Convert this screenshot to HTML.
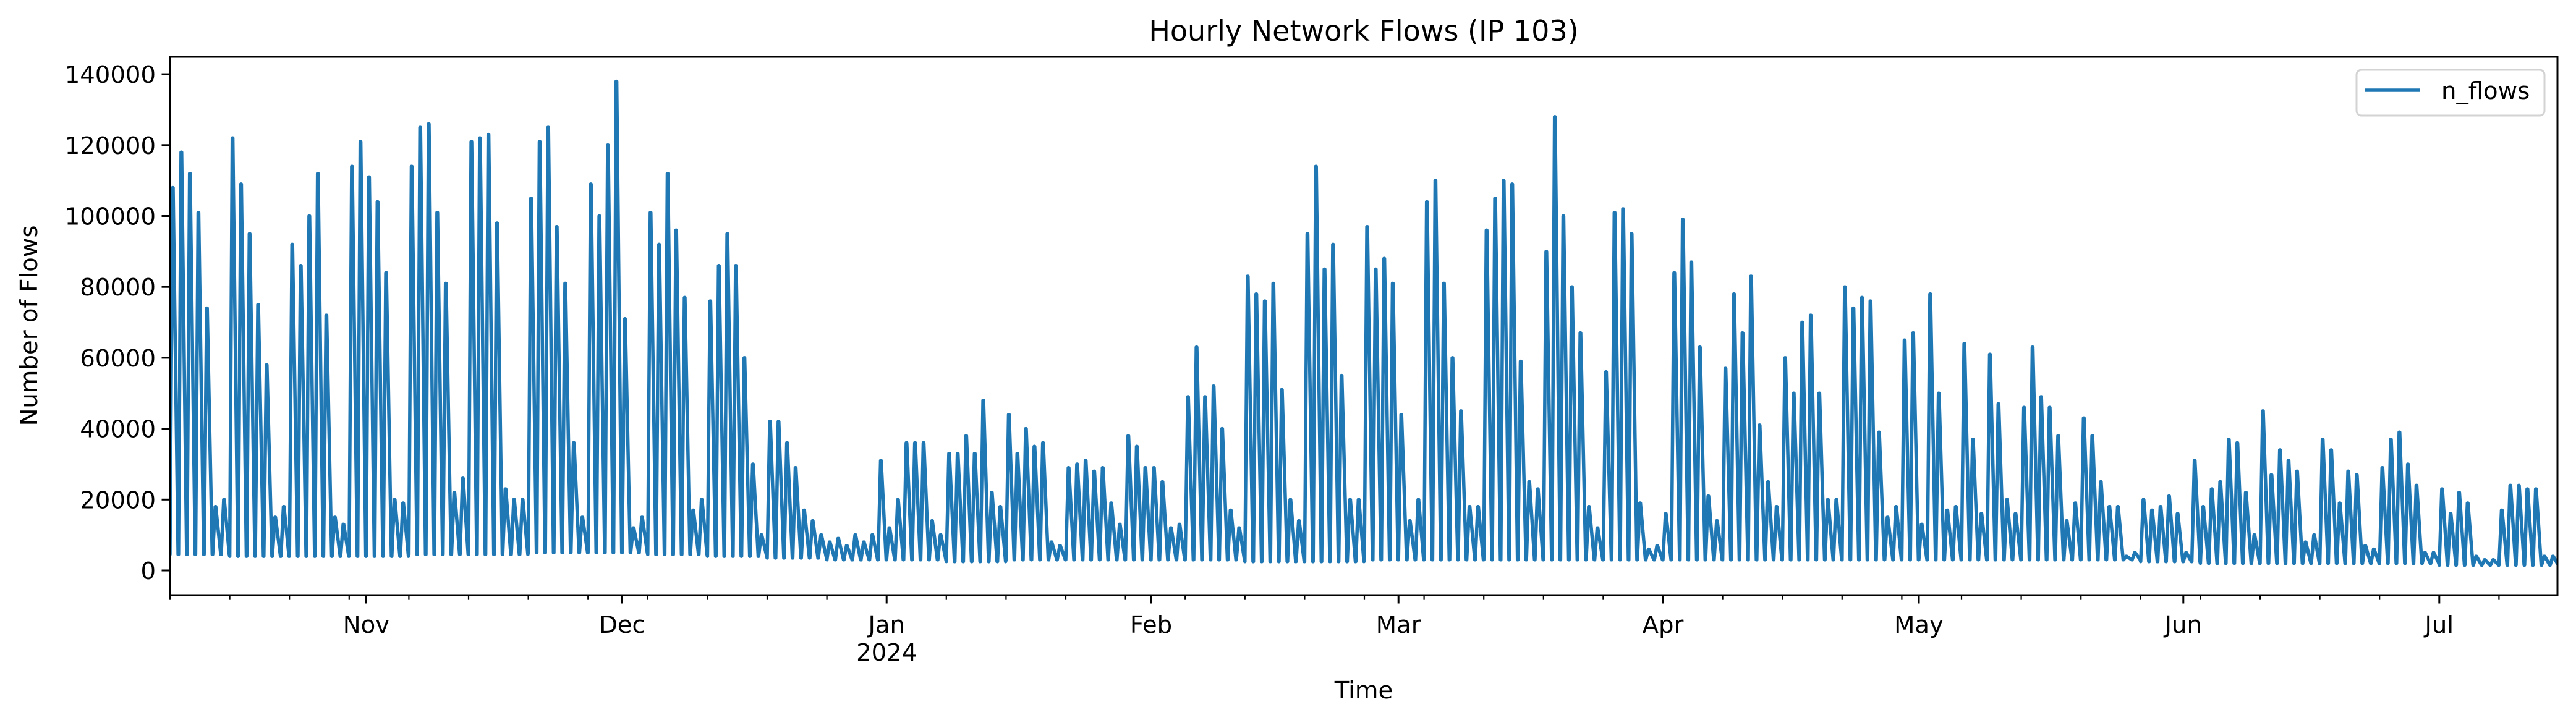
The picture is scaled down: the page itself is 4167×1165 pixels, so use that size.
<!DOCTYPE html>
<html>
<head>
<meta charset="utf-8">
<style>
html,body{margin:0;padding:0;background:#fff;}
svg{display:block;}
text{font-family:"DejaVu Sans","Liberation Sans",sans-serif;fill:#000;}
</style>
</head>
<body>
<svg id="chart" width="4167" height="1165" viewBox="0 0 4167 1165" xmlns="http://www.w3.org/2000/svg">
  <rect x="0" y="0" width="4167" height="1165" fill="#fff"/>
  <text x="2206" y="66" font-size="46" text-anchor="middle">Hourly Network Flows (IP 103)</text>
  <defs><clipPath id="plotclip"><rect x="275" y="92" width="3862" height="871"/></clipPath></defs>
  <g id="plot" clip-path="url(#plotclip)"></g>
  <g id="axes"></g>
  <text x="2206" y="1130" font-size="38.6" text-anchor="middle">Time</text>
  <text transform="translate(60,527) rotate(-90)" font-size="38.6" text-anchor="middle">Number of Flows</text>
  <g>
    <rect x="3812" y="113" width="304" height="74" rx="8" ry="8" fill="#fff" fill-opacity="0.8" stroke="#d3d3d3" stroke-width="3"/>
    <line x1="3825" y1="146" x2="3915" y2="146" stroke="#1f77b4" stroke-width="5.5"/>
    <text x="3949" y="160" font-size="38.6">n_flows</text>
  </g>
</svg>
<script>
// Daily peak values (thousands of flows), day 0 = 2023-10-09
const dailyPeaks = [
108,118,112,101,74,18,20,
122,109,95,75,58,15,18,
92,86,100,112,72,15,13,
114,121,111,104,84,20,19,
114,125,126,101,81,22,26,
121,122,123,98,23,20,20,
105,121,125,97,81,36,15,
109,100,120,138,71,12,15,
101,92,112,96,77,17,20,
76,86,95,86,60,30,10,
42,42,36,29,17,14,10,
8,9,7,10,8,10,31,
12,20,36,36,36,14,10,
33,33,38,33,48,22,18,
44,33,40,35,36,8,7,
29,30,31,28,29,19,13,
38,35,29,29,25,12,13,
49,63,49,52,40,17,12,
83,78,76,81,51,20,14,
95,114,85,92,55,20,20,
97,85,88,81,44,14,20,
104,110,81,60,45,18,18,
96,105,110,109,59,25,23,
90,128,100,80,67,18,12,
56,101,102,95,19,6,7,
16,84,99,87,63,21,14,
57,78,67,83,41,25,18,
60,50,70,72,50,20,20,
80,74,77,76,39,15,18,
65,67,13,78,50,17,18,
64,37,16,61,47,20,16,
46,63,49,46,38,14,19,
43,38,25,18,18,4,5,
20,17,18,21,16,5,31,
18,23,25,37,36,22,10,
45,27,34,31,28,8,10,
37,34,19,28,27,7,6,
29,37,39,30,24,5,5,
23,16,22,19,4,3,3,
17,24,24,23,23,4,4
];
// Weekly night-time trough values (thousands)
const weeklyTroughs = [4.5,4,4,4,4.5,4.5,5,5,4.5,4,3.5,3,3,2.5,3,3,3,3,2.5,2.5,3,3,3,3,3,3,3,3,3,3,3,3,3,2.5,2,2,2,2,1.5,1.5];
const yTickValues = [0,20000,40000,60000,80000,100000,120000,140000];
const yTickLabels = ["0","20000","40000","60000","80000","100000","120000","140000"];
const monthTickDays = [23,53,84,115,144,175,205,236,266];
const monthTickLabels = ["Nov","Dec","Jan","Feb","Mar","Apr","May","Jun","Jul"];
const unit = 1000;

const X0 = 275, X1 = 4137, Y0 = 92, Y1 = 963;
const PX_PER_DAY = 13.8;
const ZERO_Y = 923, PX_PER_UNIT = 0.005735;
function xScale(day){ return X0 + day*PX_PER_DAY; }
function yScale(v){ return ZERO_Y - v*PX_PER_UNIT; }
const NS = "http://www.w3.org/2000/svg";
const plot = document.getElementById('plot');
const axes = document.getElementById('axes');

// series line
let pts = [];
for (let d = 0; d < dailyPeaks.length; d++) {
  const tr = weeklyTroughs[Math.floor(d/7)] * unit;
  pts.push([xScale(d+0.0), yScale(tr)]);
  pts.push([xScale(d+0.3), yScale(dailyPeaks[d]*unit)]);
  pts.push([xScale(d+0.36), yScale(dailyPeaks[d]*unit)]);
  pts.push([xScale(d+0.95), yScale(tr)]);
}
const path = document.createElementNS(NS,'path');
path.setAttribute('d', 'M' + pts.map(p => p[0].toFixed(1)+','+p[1].toFixed(1)).join('L'));
path.setAttribute('fill','none');
path.setAttribute('stroke','#1f77b4');
path.setAttribute('stroke-width','5.5');
path.setAttribute('stroke-linejoin','round');
path.setAttribute('stroke-linecap','round');


plot.appendChild(path);

// axes frame
const frame = document.createElementNS(NS,'rect');
frame.setAttribute('x',X0); frame.setAttribute('y',Y0);
frame.setAttribute('width',X1-X0); frame.setAttribute('height',Y1-Y0);
frame.setAttribute('fill','none'); frame.setAttribute('stroke','#000'); frame.setAttribute('stroke-width','3');


axes.appendChild(frame);

// y ticks
yTickValues.forEach((v,i) => {
  const y = yScale(v);
  const t = document.createElementNS(NS,'line');
  t.setAttribute('x1',X0); t.setAttribute('x2',X0-13.5);
  t.setAttribute('y1',y); t.setAttribute('y2',y);
  t.setAttribute('stroke','#000'); t.setAttribute('stroke-width','3');
  
  
  axes.appendChild(t);
  const lb = document.createElementNS(NS,'text');
  lb.setAttribute('x',X0-23); lb.setAttribute('y',y+14);
  lb.setAttribute('font-size','38.6'); lb.setAttribute('text-anchor','end');
  lb.textContent = yTickLabels[i];
  
  
  axes.appendChild(lb);
});

// minor weekly ticks
for (let d = 0; d*PX_PER_DAY <= X1-X0+0.5; d += 7) {
  const x = xScale(d);
  const t = document.createElementNS(NS,'line');
  t.setAttribute('x1',x); t.setAttribute('x2',x);
  t.setAttribute('y1',Y1); t.setAttribute('y2',Y1+7.7);
  t.setAttribute('stroke','#000'); t.setAttribute('stroke-width','2.2');
  
  
  axes.appendChild(t);
}
// month ticks
monthTickDays.forEach((d,i) => {
  const x = xScale(d);
  const t = document.createElementNS(NS,'line');
  t.setAttribute('x1',x); t.setAttribute('x2',x);
  t.setAttribute('y1',Y1); t.setAttribute('y2',Y1+13.5);
  t.setAttribute('stroke','#000'); t.setAttribute('stroke-width','3');
  
  
  axes.appendChild(t);
  const lb = document.createElementNS(NS,'text');
  lb.setAttribute('x',x); lb.setAttribute('y',1024);
  lb.setAttribute('font-size','38.6'); lb.setAttribute('text-anchor','middle');
  lb.textContent = monthTickLabels[i];
  
  
  axes.appendChild(lb);
  if (monthTickLabels[i] === 'Jan') {
    const yl = document.createElementNS(NS,'text');
    yl.setAttribute('x',x); yl.setAttribute('y',1069);
    yl.setAttribute('font-size','38.6'); yl.setAttribute('text-anchor','middle');
    yl.textContent = '2024';
    
    
    axes.appendChild(yl);
  }
});
</script>
</body>
</html>
